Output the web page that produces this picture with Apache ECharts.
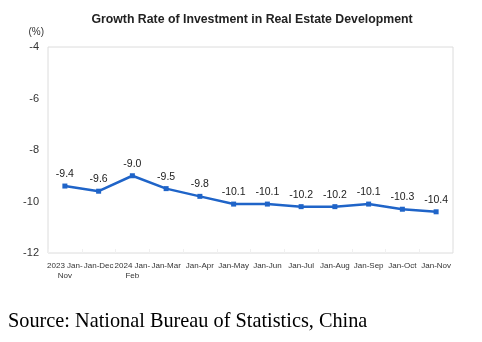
<!DOCTYPE html>
<html>
<head>
<meta charset="utf-8">
<script src="https://cdn.jsdelivr.net/npm/echarts@6/dist/echarts.min.js"></script>
<style>
  html, body { margin: 0; padding: 0; background: #fff; }
  #chart { width: 482px; height: 342px; }
</style>
</head>
<body>
<div id="chart"></div>
<script>
// Cumulative year-on-year growth of real estate development investment
const periods = ['2023 Jan-\nNov', 'Jan-Dec', '2024 Jan-\nFeb', 'Jan-Mar', 'Jan-Apr', 'Jan-May',
                 'Jan-Jun', 'Jan-Jul', 'Jan-Aug', 'Jan-Sep', 'Jan-Oct', 'Jan-Nov'];
const growthRate = [-9.4, -9.6, -9.0, -9.5, -9.8, -10.1, -10.1, -10.2, -10.2, -10.1, -10.3, -10.4];
const yTicks = { min: -12, max: -4, step: 2 };

const chart = echarts.init(document.getElementById('chart'));
chart.setOption({
  animation: false,
  title: {
    text: 'Growth Rate of Investment in Real Estate Development',
    left: 247,
    textAlign: 'center',
    top: 9,
    textStyle: { fontFamily: 'Liberation Sans, Arial', fontSize: 12.3, fontWeight: 'bold', color: '#222' }
  },
  grid: {
    left: 48, right: 29, top: 47, bottom: 89,
    show: true, borderColor: '#dcdcdc', borderWidth: 1
  },
  xAxis: {
    type: 'category',
    data: periods,
    boundaryGap: true,
    axisLine: { show: false },
    axisTick: { show: true, inside: true, length: 4, lineStyle: { color: '#f0f0f0' } },
    axisLabel: {
      interval: 0, margin: 8, color: '#333', fontSize: 8, lineHeight: 10,
      fontFamily: 'Liberation Sans, Arial'
    }
  },
  yAxis: {
    type: 'value',
    name: '(%)',
    nameLocation: 'end',
    nameGap: 10,
    nameTextStyle: { color: '#333', fontSize: 10, fontFamily: 'Liberation Sans, Arial', align: 'right', padding: [0, 4, 0, 0] },
    min: yTicks.min, max: yTicks.max, interval: yTicks.step,
    axisLine: { show: false },
    axisTick: { show: false },
    splitLine: { show: false },
    axisLabel: { color: '#333', fontSize: 11, margin: 9, fontFamily: 'Liberation Sans, Arial' }
  },
  series: [{
    type: 'line',
    data: growthRate,
    symbol: 'rect',
    symbolSize: 5,
    lineStyle: { color: '#1f64c8', width: 2.5 },
    itemStyle: { color: '#1f64c8' },
    label: {
      show: true, position: 'top', distance: 4, color: '#222', fontSize: 10.5,
      fontFamily: 'Liberation Sans, Arial',
      formatter: p => p.value.toFixed(1)
    }
  }],
  graphic: [{
    type: 'text',
    left: 8,
    top: 312,
    style: {
      text: 'Source: National Bureau of Statistics, China',
      font: '20.3px "Liberation Serif", "Times New Roman", serif',
      fill: '#000'
    }
  }]
});
</script>
</body>
</html>
